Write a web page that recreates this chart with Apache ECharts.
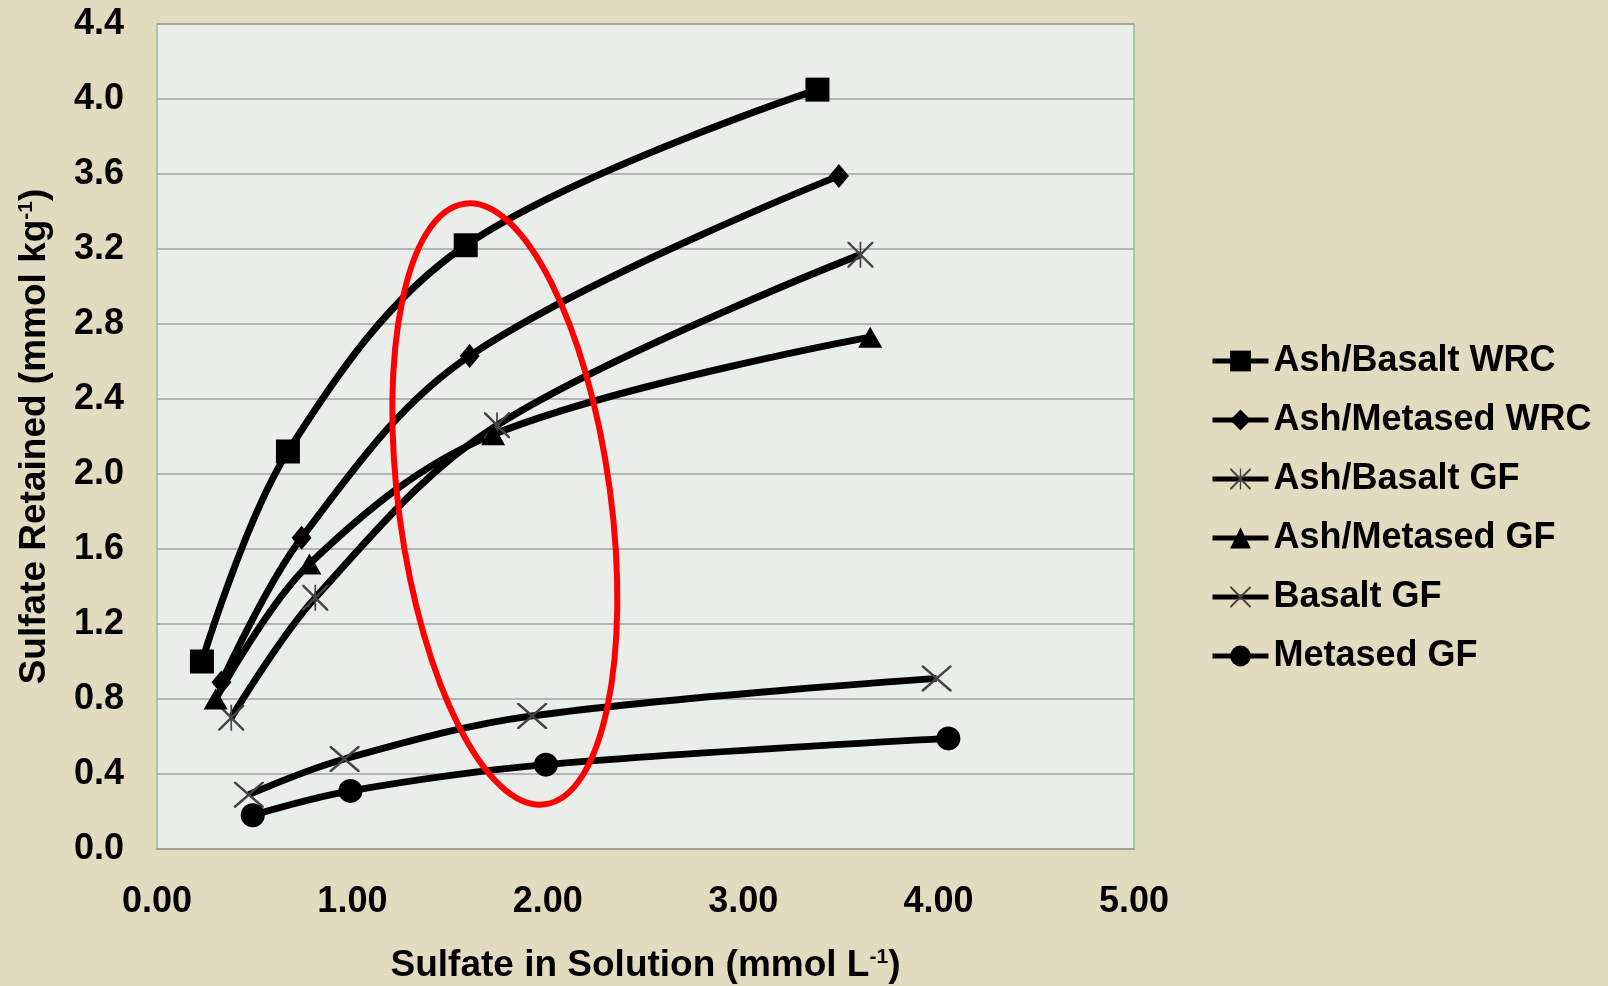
<!DOCTYPE html>
<html lang="en" style="height: 100%">
<head>
  <meta charset="utf-8">
</head>
<body style="height: 100%; margin: 0; background: #E1DCC0">
  <div id="container" style="width: 1608px; height: 986px"></div>

  <script type="text/javascript" src="https://cdn.jsdelivr.net/npm/echarts@6/dist/echarts.min.js"></script>
  <script type="text/javascript">
    // values
    var seriesNames = ['Ash/Basalt WRC', 'Ash/Metased WRC', 'Ash/Basalt GF', 'Ash/Metased GF', 'Basalt GF', 'Metased GF'];

    var ashBasaltWrcX = [0.23, 0.67, 1.58, 3.38];
    var ashBasaltWrcY = [1.00, 2.12, 3.22, 4.05];

    var ashMetasedWrcX = [0.33, 0.74, 1.60, 3.49];
    var ashMetasedWrcY = [0.89, 1.66, 2.63, 3.59];

    var ashBasaltGfX = [0.38, 0.81, 1.74, 3.60];
    var ashBasaltGfY = [0.70, 1.34, 2.26, 3.17];

    var ashMetasedGfX = [0.30, 0.78, 1.72, 3.65];
    var ashMetasedGfY = [0.80, 1.52, 2.21, 2.73];

    var basaltGfX = [0.47, 0.96, 1.92, 3.99];
    var basaltGfY = [0.29, 0.48, 0.71, 0.91];

    var metasedGfX = [0.49, 0.99, 1.99, 4.05];
    var metasedGfY = [0.18, 0.31, 0.45, 0.59];

    // centre of the red ring, in data units
    var ringCenter = [1.78, 1.84];

    var font = "'Liberation Sans', Arial, sans-serif";

    function pairs(xs, ys) {
      return xs.map(function (x, i) { return [x, ys[i]]; });
    }

    // thin stroke-like markers built from filled strips
    var xMark = 'path://M0,0 L1.3,0 L20,18.7 L20,20 L18.7,20 L0,1.3 Z M18.7,0 L20,0 L20,1.3 L1.3,20 L0,20 L0,18.7 Z';
    var starMark = xMark + ' M9.35,0 L10.65,0 L10.65,20 L9.35,20 Z';

    function makeSeries(name, xs, ys, symbol, size, color) {
      return {
        name: name,
        type: 'line',
        data: pairs(xs, ys),
        smooth: 0.35,
        symbol: symbol,
        symbolSize: size,
        showAllSymbol: true,
        lineStyle: { color: '#000', width: 7 },
        itemStyle: { color: color || '#000' },
        z: 3
      };
    }

    var supStyle = { fontFamily: font, fontSize: 21, fontWeight: 'bold', color: '#000', verticalAlign: 'top', lineHeight: 21 };

    var dom = document.getElementById('container');
    var myChart = echarts.init(dom, null, { renderer: 'canvas' });

    var option = {
      animation: false,
      backgroundColor: '#E1DCC0',
      grid: {
        left: 157,
        right: 474,
        top: 24,
        bottom: 137,
        show: true,
        backgroundColor: '#EAEEEA',
        borderColor: '#98BC98',
        borderWidth: 1.5,
        outerBoundsMode: 'none'
      },
      legend: {
        orient: 'vertical',
        left: 1210,
        top: 343,
        padding: 0,
        itemWidth: 56,
        itemHeight: 26,
        itemGap: 23,
        data: seriesNames,
        lineStyle: { width: 5 },
        textStyle: {
          fontFamily: font,
          fontSize: 36,
          fontWeight: 'bold',
          color: '#000',
          lineHeight: 36
        }
      },
      xAxis: {
        type: 'value',
        min: 0,
        max: 5,
        interval: 1,
        name: 'Sulfate in Solution (mmol L{sup|-1})',
        nameLocation: 'middle',
        nameGap: 98,
        nameTextStyle: {
          fontFamily: font,
          fontSize: 37,
          fontWeight: 'bold',
          color: '#000',
          rich: { sup: supStyle }
        },
        axisLine: { show: true, lineStyle: { color: '#A0A0A0', width: 2 } },
        axisTick: { show: false },
        splitLine: { show: false },
        axisLabel: {
          margin: 35,
          fontFamily: font,
          fontSize: 36,
          fontWeight: 'bold',
          color: '#000',
          formatter: function (v) { return v.toFixed(2); }
        }
      },
      yAxis: {
        type: 'value',
        min: 0,
        max: 4.4,
        interval: 0.4,
        name: 'Sulfate Retained (mmol kg{sup|-1})',
        nameLocation: 'middle',
        nameGap: 104,
        nameTextStyle: {
          fontFamily: font,
          fontSize: 37,
          fontWeight: 'bold',
          color: '#000',
          rich: { sup: supStyle }
        },
        axisLine: { show: false },
        axisTick: { show: false },
        splitLine: { show: true, lineStyle: { color: '#A0A0A0', width: 1.5 } },
        axisLabel: {
          margin: 33,
          fontFamily: font,
          fontSize: 36,
          fontWeight: 'bold',
          color: '#000',
          formatter: function (v) { return v.toFixed(1); }
        }
      },
      series: [
        makeSeries(seriesNames[0], ashBasaltWrcX, ashBasaltWrcY, 'rect', 24),
        makeSeries(seriesNames[1], ashMetasedWrcX, ashMetasedWrcY, 'diamond', [20, 24]),
        makeSeries(seriesNames[2], ashBasaltGfX, ashBasaltGfY, starMark, 26, '#444'),
        makeSeries(seriesNames[3], ashMetasedGfX, ashMetasedGfY, 'triangle', [24, 21]),
        makeSeries(seriesNames[4], basaltGfX, basaltGfY, xMark, [30, 26], '#444'),
        makeSeries(seriesNames[5], metasedGfX, metasedGfY, 'circle', 24)
      ]
    };

    myChart.setOption(option);

    // red ring drawn around the middle points
    var c = myChart.convertToPixel({ gridIndex: 0 }, ringCenter);
    myChart.setOption({
      graphic: [{
        type: 'ellipse',
        x: c[0],
        y: c[1],
        rotation: 0.133,
        shape: { cx: 0, cy: 0, rx: 106, ry: 303 },
        style: { fill: null, stroke: '#FF0000', lineWidth: 6 },
        z: 10
      }]
    });

    window.addEventListener('resize', myChart.resize);
  </script>
</body>
</html>
